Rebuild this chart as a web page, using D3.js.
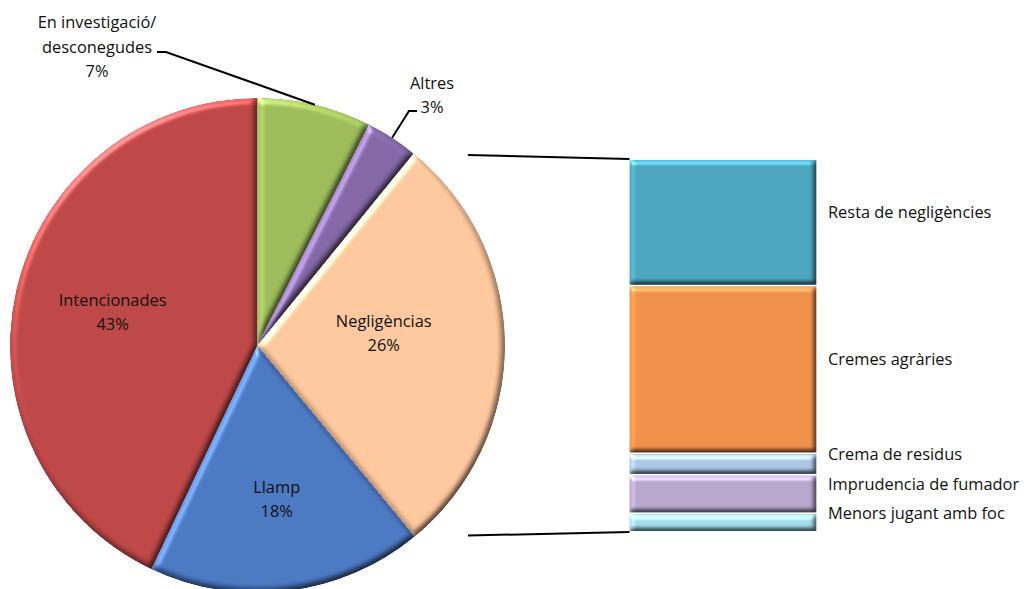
<!DOCTYPE html>
<html>
<head>
<meta charset="utf-8">
<script src="https://cdn.jsdelivr.net/npm/d3@7"></script>
<style>
  html, body { margin: 0; padding: 0; background: #fff; }
  svg { display: block; }
  text { font-family: "Open Sans", "Noto Sans", sans-serif; font-size: 16.4px; fill: #111; }
</style>
</head>
<body>
<svg id="chart" width="1024" height="589"></svg>
<script>
// ---- data ----
const causes = ["En investigació/|desconegudes", "Altres", "Negligèncias", "Llamp", "Intencionades"];
const causeLabels = ["7%", "3%", "26%", "18%", "43%"];
const causeOtherValues = [7.4, 3.4, null, 17.9, 42.7]; // null = sum of the breakdown bar
const negCategories = ["Resta de negligències", "Cremes agràries", "Crema de residus", "Imprudencia de fumador", "Menors jugant amb foc"];
const negValues = [9.5, 12.6, 1.6, 2.9, 1.4];

// ---- styles ----
const pieColors = ["#99B957", "#8064A2", "#FCC49A", "#4875BE", "#BA4444"];
const barColors = ["#48A2BA", "#EC8D48", "#A8C3E2", "#B3A3C9", "#A0DAE8"];

const svg = d3.select("#chart");
const defs = svg.append("defs");

function bevelFilter(id, blur, scale) {
  const f = defs.append("filter").attr("id", id)
    .attr("x", "-5%").attr("y", "-5%").attr("width", "110%").attr("height", "110%")
    .attr("color-interpolation-filters", "sRGB");
  f.append("feGaussianBlur").attr("in", "SourceAlpha").attr("stdDeviation", blur).attr("result", "blur");
  const dl = f.append("feDiffuseLighting").attr("in", "blur").attr("surfaceScale", scale)
    .attr("diffuseConstant", 1).attr("lighting-color", "#fff").attr("result", "diff");
  dl.append("feDistantLight").attr("azimuth", 235).attr("elevation", 45);
  f.append("feComposite").attr("in", "SourceGraphic").attr("in2", "diff")
    .attr("operator", "arithmetic").attr("k1", 0.9).attr("k2", 0.364).attr("k3", 0).attr("k4", 0).attr("result", "lit");
  const sl = f.append("feSpecularLighting").attr("in", "blur").attr("surfaceScale", scale)
    .attr("specularConstant", 0.6).attr("specularExponent", 20).attr("lighting-color", "#fff").attr("result", "spec");
  sl.append("feDistantLight").attr("azimuth", 235).attr("elevation", 30);
  f.append("feComposite").attr("in", "spec").attr("in2", "SourceAlpha").attr("operator", "in").attr("result", "specIn");
  f.append("feComposite").attr("in", "lit").attr("in2", "specIn")
    .attr("operator", "arithmetic").attr("k1", 0).attr("k2", 1).attr("k3", 0.5).attr("k4", 0).attr("result", "sum");
  f.append("feComposite").attr("in", "sum").attr("in2", "SourceAlpha").attr("operator", "in");
}
bevelFilter("bevelPie", 3, 4);
bevelFilter("bevelBar", 2.5, 4);

// ---- pie ----
const negTotal = d3.sum(negValues);
const pieValues = causeOtherValues.map(v => v === null ? negTotal : v);
const cx = 257.5, cy = 345.5, R = 247.5;
const pie = d3.pie().sort(null).startAngle(0).endAngle(2 * Math.PI);
const arcs = pie(pieValues);
const arc = d3.arc().innerRadius(0).outerRadius(R);

const gPie = svg.append("g").attr("transform", `translate(${cx},${cy})`);
gPie.selectAll("path.slice").data(arcs).join("path")
  .attr("class", "slice")
  .attr("d", arc)
  .attr("fill", (d, i) => pieColors[i])
  .attr("filter", "url(#bevelPie)");

// point on the rim at an angle
const rim = (a, r) => [Math.sin(a) * r, -Math.cos(a) * r];

// inside labels (Negligèncias, Llamp, Intencionades)
const insideCfg = { 2: { k: 0.51, dy: -11 }, 3: { k: 0.63, dy: 0 }, 4: { k: 0.6, dy: 0 } };
Object.keys(insideCfg).forEach(key => {
  const i = +key, d = arcs[i], c = insideCfg[i];
  const mid = (d.startAngle + d.endAngle) / 2;
  const [x, y] = rim(mid, R * c.k);
  const t = gPie.append("text").attr("text-anchor", "middle")
    .attr("transform", `translate(${x},${y + c.dy})`);
  t.append("tspan").attr("x", 0).attr("y", -12.5).attr("dy", "0.35em").text(causes[i]);
  t.append("tspan").attr("x", 0).attr("y", 11.5).attr("dy", "0.35em").text(causeLabels[i]);
});

// outside labels with leader lines (absolute page positions)
const outsideCfg = {
  0: { x: 97, y: 47, lines: 3, lineH: 24.5, anchor: [157, 52], elbow: [166, 52] },
  1: { x: 432, y: 95, lines: 2, lineH: 24, anchor: [417, 111], elbow: [409, 111] }
};
Object.keys(outsideCfg).forEach(key => {
  const i = +key, d = arcs[i], c = outsideCfg[i];
  const mid = (d.startAngle + d.endAngle) / 2;
  const [px, py] = rim(mid, R);
  svg.append("polyline")
    .attr("points", [c.anchor, c.elbow, [cx + px, cy + py]].map(p => p.join(",")).join(" "))
    .attr("fill", "none").attr("stroke", "#000").attr("stroke-width", 2);
  const parts = causes[i].split("|").concat([causeLabels[i]]);
  const t = svg.append("text").attr("text-anchor", "middle");
  const y0 = c.y - (parts.length - 1) * c.lineH / 2;
  parts.forEach((p, j) => {
    t.append("tspan").attr("x", c.x).attr("y", y0 + j * c.lineH).attr("dy", "0.35em").text(p);
  });
});

// ---- breakdown bar ----
const barX0 = 629.5, barX1 = 816.5;
const y = d3.scaleLinear().domain([0, negTotal]).range([532, 159]);
// stack from bottom (last category) to top (first)
let acc = 0;
const segs = negValues.map((v, i) => i).reverse().map(i => {
  const s = { i, y0: acc, y1: acc + negValues[i] };
  acc += negValues[i];
  return s;
});

// series lines from the "Negligèncias" slice to the bar
const negArc = arcs[2];
const topCorner = rim(negArc.startAngle, R), botCorner = rim(negArc.endAngle, R);
const lineStartX = cx + R * 0.85;
svg.append("line").attr("x1", lineStartX).attr("y1", cy + topCorner[1] + 1.5)
  .attr("x2", barX0).attr("y2", y(negTotal)).attr("stroke", "#000").attr("stroke-width", 2);
svg.append("line").attr("x1", lineStartX).attr("y1", cy + botCorner[1] - 1)
  .attr("x2", barX0).attr("y2", y(0)).attr("stroke", "#000").attr("stroke-width", 2);

const gBar = svg.append("g");
gBar.selectAll("rect").data(segs).join("rect")
  .attr("x", barX0)
  .attr("width", barX1 - barX0)
  .attr("y", d => y(d.y1) + 0.8)
  .attr("height", d => y(d.y0) - y(d.y1) - 1.6)
  .attr("fill", d => barColors[d.i])
  .attr("filter", "url(#bevelBar)");

gBar.selectAll("text").data(segs).join("text")
  .attr("x", 828)
  .attr("y", d => (y(d.y0) + y(d.y1)) / 2 - 4)
  .text(d => negCategories[d.i]);
</script>
</body>
</html>
